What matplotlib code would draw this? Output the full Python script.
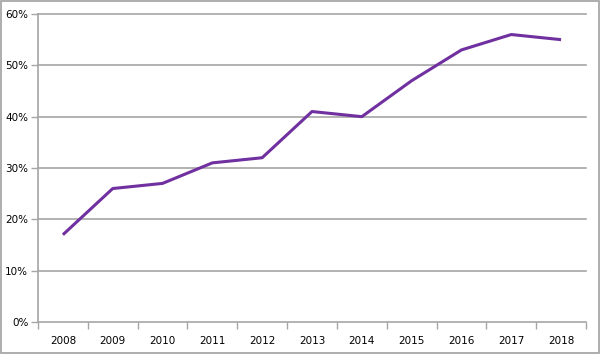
import matplotlib
matplotlib.use("Agg")
import matplotlib.pyplot as plt
from matplotlib.ticker import FixedLocator, PercentFormatter
from matplotlib.patches import Rectangle

years = ["2008", "2009", "2010", "2011", "2012", "2013", "2014", "2015", "2016", "2017", "2018"]
values = [17, 26, 27, 31, 32, 41, 40, 47, 53, 56, 55]
yticks = [0, 10, 20, 30, 40, 50, 60]

fig = plt.figure(figsize=(6, 3.54), dpi=100)
ax = fig.add_axes([38/600, 1 - 322/354, 548/600, 308/354])

x = list(range(len(years)))
ax.plot(x, values, color="#7030A0", linewidth=2.2, solid_joinstyle="round", solid_capstyle="butt")

ax.set_xlim(-0.5, len(years) - 0.5)
ax.set_ylim(0, 60)
ax.set_yticks(yticks)
ax.yaxis.set_major_formatter(PercentFormatter(decimals=0))
for y in yticks[1:]:
    ax.axhline(y, color="#A6A6A6", linewidth=1.2, zorder=0, clip_on=False)

ax.set_xticks(x)
ax.set_xticklabels(years)
ax.xaxis.set_minor_locator(FixedLocator([i - 0.5 for i in range(len(years) + 1)]))
ax.tick_params(axis="x", which="major", length=0, pad=10, labelsize=7.5, colors="#000000")
ax.tick_params(axis="x", which="minor", length=5, width=1, color="#A6A6A6")
ax.tick_params(axis="y", which="major", length=5, width=1, color="#A6A6A6", labelsize=7.5, pad=2)

for s in ["top", "right"]:
    ax.spines[s].set_visible(False)
for s in ["left", "bottom"]:
    ax.spines[s].set_color("#A6A6A6")
    ax.spines[s].set_linewidth(1.2)

fig.patches.append(Rectangle((0.001, 0.002), 0.997, 0.995, transform=fig.transFigure,
                             fill=False, edgecolor="#A0A0A0", linewidth=1.2))

fig.savefig("out.png", dpi=100)
